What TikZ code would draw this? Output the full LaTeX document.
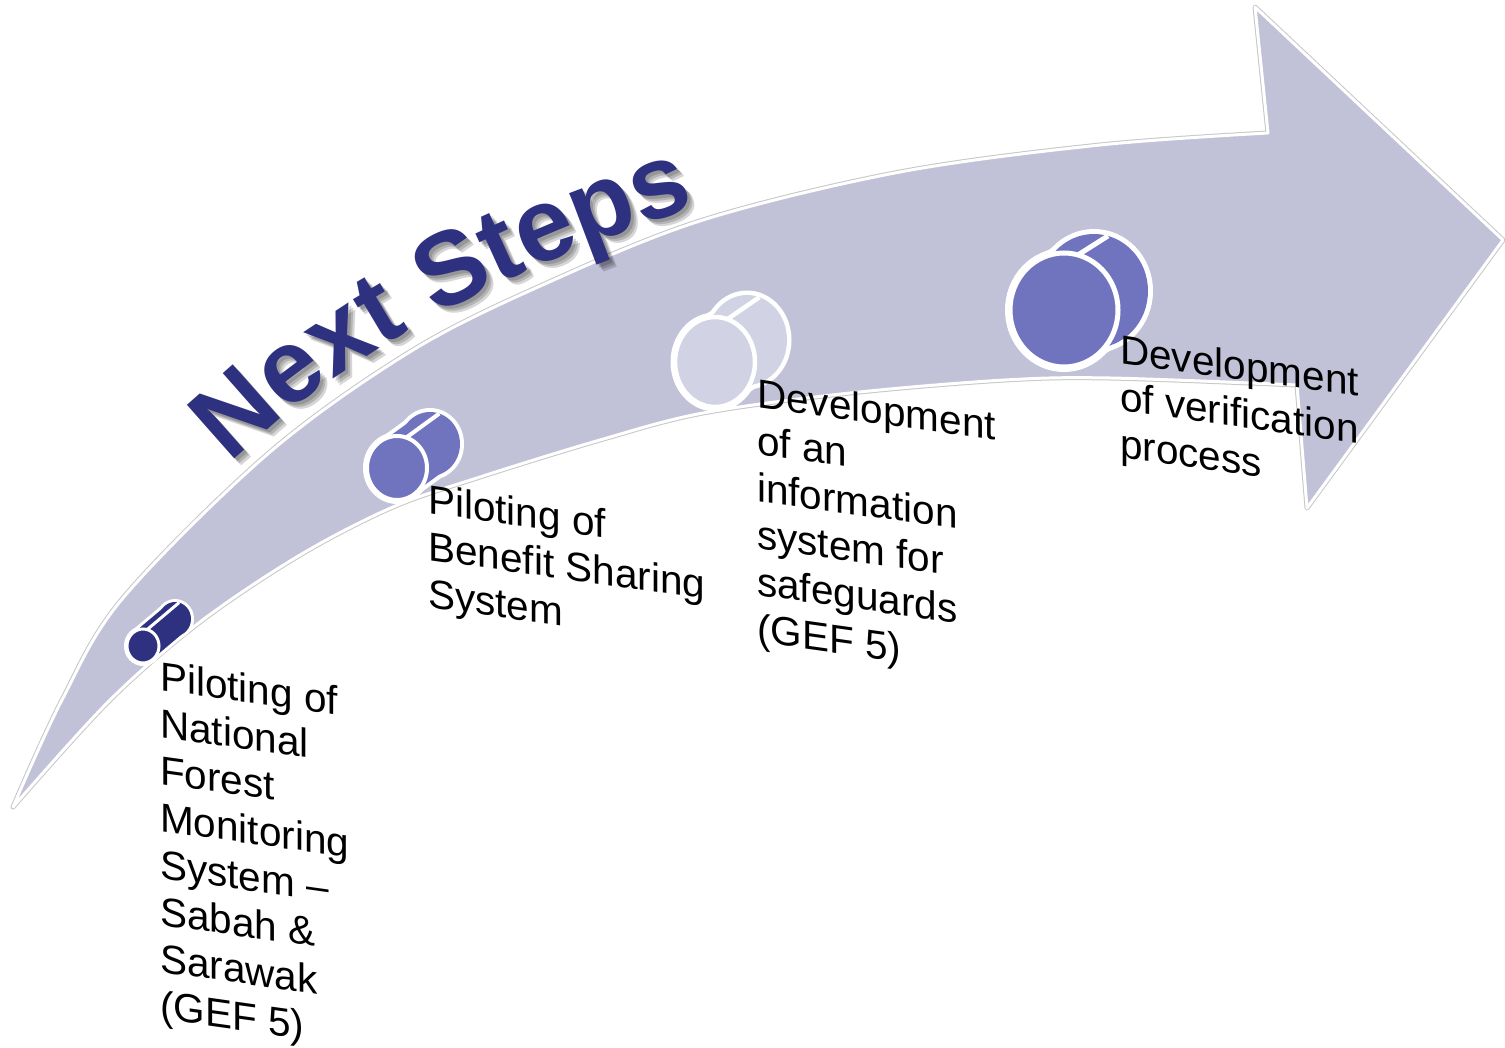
\documentclass[tikz,border=0pt]{standalone}
\usepackage{fontspec}
\setmainfont{Liberation Sans}
\usetikzlibrary{calc,decorations.text}

\definecolor{arrowfill}{RGB}{193,194,216}
\definecolor{navy}{RGB}{46,49,128}
\definecolor{canmid}{RGB}{112,116,190}
\definecolor{canlight}{RGB}{209,210,227}

% title lettering and its shadow
\newcommand\titleface{\fontsize{104}{114}\selectfont\bfseries\color{navy}}
\newcommand\titleshade{\fontsize{104}{114}\selectfont\bfseries\color{black}}

% lines of a label, baseline of the block = baseline of its first line
\newcommand\stacklines[1]{\vtop{\baselineskip=47pt\lineskiplimit=-100pt\relax #1}}

% a can lying on its side: name, front centre, x radius, y radius,
% axis offset, colour, rim width, seam angle
\newcommand\drawcan[8]{%
  \coordinate (#1-f) at #2;
  \coordinate (#1-b) at ($(#1-f)+#5$);
  \coordinate (#1-u) at ($(#1-f)!#3pt!90:(#1-b)$);
  \coordinate (#1-l) at ($(#1-f)!#3pt!-90:(#1-b)$);
  \coordinate (#1-ub) at ($(#1-u)+#5$);
  \coordinate (#1-lb) at ($(#1-l)+#5$);
  \coordinate (#1-s) at ($(#1-f)+(#8:#3 and #4)$);
  \coordinate (#1-sb) at ($(#1-s)+#5$);
  \filldraw[white, line width=2*#7pt] (#1-b) ellipse[x radius=#3, y radius=#4];
  \filldraw[white, line width=2*#7pt, line join=round] (#1-u) -- (#1-ub) -- (#1-lb) -- (#1-l) -- cycle;
  \filldraw[white, line width=2*#7pt] (#1-f) ellipse[x radius=#3, y radius=#4];
  \fill[#6] (#1-b) ellipse[x radius=#3, y radius=#4];
  \fill[#6] (#1-u) -- (#1-ub) -- (#1-lb) -- (#1-l) -- cycle;
  \draw[white, line width=#7pt] (#1-s) -- (#1-sb);
  \filldraw[fill=#6, draw=white, line width=#7pt] (#1-f) ellipse[x radius=#3, y radius=#4];
}

\tikzset{
  bodytext/.style={font=\fontsize{40.5}{47}\selectfont, inner sep=0pt, anchor=base west, transform shape, text=black},
  arrowbody/.style={fill=arrowfill, draw=white, line width=3pt, line join=round,
    preaction={draw=black!22, line width=5pt, line join=round}},
  titlepath/.style={decorate, decoration={text along path, text={|#1|Next Steps}}},
}

\begin{document}
\begin{tikzpicture}[x=1pt, y=-1pt]
\useasboundingbox (0,0) rectangle (1505,1048);

% the curved arrow
\path[arrowbody]
  plot[smooth, tension=0.55] coordinates {(13,807) (62,700) (123,598) (270,452) (413,350) (547,283) (703,220) (900,172) (1100,145) (1268,133)}
  -- (1255,7) -- (1503,240) -- (1307,508) -- (1297,385)
  -- plot[smooth, tension=0.55] coordinates {(1297,385) (1110,378) (1005,380) (850,393) (703,413) (600,440) (480,477) (393,507) (300,555) (200,622) (110,700) (13,807)}
  -- cycle;

% soft drop shadow of the title
\begin{scope}[opacity=0.16]
  \foreach \d in {3,5,7} {
    \path[shift={(\d,\d)}, titlepath=\titleshade]
      (230,464) .. controls (360,338) and (527,262) .. (704,204);
  }
\end{scope}
% title along the upper edge
\path[titlepath=\titleface]
  (230,464) .. controls (360,338) and (527,262) .. (704,204);

% cans
\drawcan{c1}{(143,646)}{16}{17}{(32,-27)}{navy}{3}{-75}
\drawcan{c2}{(397,468)}{30}{32}{(33,-24)}{canmid}{4}{-72}
\drawcan{c3}{(715,362)}{40}{45}{(32,-22)}{canlight}{4.5}{-72}
\drawcan{c4}{(1064,310)}{54}{57}{(30,-19)}{canmid}{5}{-75}

% labels
\begin{scope}[shift={(160,690)}, yslant=-0.14]
  \node[bodytext] (t1) at (0,0) {\stacklines{\hbox{Piloting of}\hbox{National}\hbox{Forest}\hbox{Monitoring}\hbox{System –}\hbox{Sabah \&}\hbox{Sarawak}\hbox{(GEF 5)}}};
\end{scope}
\begin{scope}[shift={(428,513)}, yslant=-0.14]
  \node[bodytext] (t2) at (0,0) {\stacklines{\hbox{Piloting of}\hbox{Benefit Sharing}\hbox{System}}};
\end{scope}
\begin{scope}[shift={(757,407)}, yslant=-0.14]
  \node[bodytext] (t3) at (0,0) {\stacklines{\hbox{Development}\hbox{of an}\hbox{information}\hbox{system for}\hbox{safeguards}\hbox{(GEF 5)}}};
\end{scope}
\begin{scope}[shift={(1120,363)}, yslant=-0.14]
  \node[bodytext] (t4) at (0,0) {\stacklines{\hbox{Development}\hbox{of verification}\hbox{process}}};
\end{scope}
\end{tikzpicture}
\end{document}
